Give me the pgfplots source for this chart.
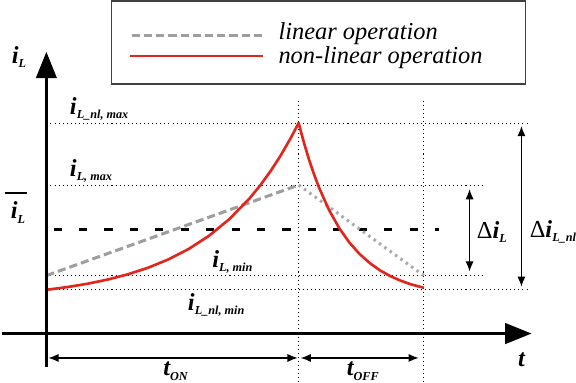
\documentclass[border=0pt]{standalone}
\usepackage{pgfplots}
\pgfplotsset{compat=1.18}
\usepackage{fontspec}
\setmainfont{Liberation Serif}
\newfontfamily\serifit{Liberation Serif}
\usetikzlibrary{arrows.meta}
\definecolor{redc}{RGB}{225,38,30}
\definecolor{grayc}{RGB}{158,158,158}
\definecolor{grayd}{RGB}{170,170,170}
\newcommand{\bi}[1]{{\serifit\fontsize{24}{26}\selectfont\bfseries\itshape #1}}
\newcommand{\sub}[1]{\raisebox{-4pt}{\serifit\fontsize{12}{13}\selectfont\bfseries\itshape #1}}
\begin{document}
\begin{tikzpicture}
\begin{axis}[scale only axis, width=576pt, height=391pt,
  xmin=0, xmax=576, ymin=0, ymax=391, axis lines=none,
  xtick=\empty, ytick=\empty, clip=false]
% dotted reference lines
\addplot[black, line width=0.9pt, dash pattern=on 1pt off 3pt] coordinates {(55,264) (525,264)};
\addplot[black, line width=0.9pt, dash pattern=on 1pt off 3pt] coordinates {(55,203) (480,203)};
\addplot[black, line width=0.9pt, dash pattern=on 1pt off 3pt] coordinates {(55,114) (480,114)};
\addplot[black, line width=0.9pt, dash pattern=on 1pt off 3pt] coordinates {(55,100) (525,100)};
\addplot[black, line width=0.9pt, dash pattern=on 1pt off 3pt] coordinates {(299,286) (299,9)};
\addplot[black, line width=0.9pt, dash pattern=on 1pt off 3pt] coordinates {(422,286) (422,9)};
% average
\addplot[black, line width=3pt, dash pattern=on 8pt off 17pt] coordinates {(58,159) (437,159)};
% linear operation
\addplot[grayc, line width=3pt, dash pattern=on 8pt off 4pt] coordinates {(51,114) (299,203)};
\addplot[grayd, line width=3pt, dash pattern=on 2.5pt off 4pt] coordinates {(299,203) (422,114)};
% non-linear operation
\addplot[redc, line width=2.6pt, line join=round] coordinates {
(51,100) (71,102.6) (91,105.9) (111,110.0) (131,115.2) (151,121.7) (171,129.9)
(191,140.2) (211,153.2) (231,169.6) (251,190.2) (261,202.4) (271,216.1)
(281,231.5) (291,248.8) (299,264)
(304,245.3) (309,228.6) (314,213.8) (319,200.5) (329,178.2) (339,160.4)
(349,146.3) (359,135.1) (369,126.2) (379,119.1) (389,113.5) (399,109.1)
(409,105.5) (422,102)};
% axes
\addplot[black, line width=3.2pt, -{Triangle[length=26pt,width=20pt]}] coordinates {(51,24) (51,334)};
\addplot[black, line width=3.2pt, -{Triangle[length=26pt,width=20pt]}] coordinates {(7,57) (528,57)};
% dimension arrows
\addplot[black, line width=1.2pt, {Latex[length=10pt,width=8pt]}-{Latex[length=10pt,width=8pt]}] coordinates {(467,199) (467,118)};
\addplot[black, line width=1.2pt, {Latex[length=10pt,width=8pt]}-{Latex[length=10pt,width=8pt]}] coordinates {(518,261) (518,103)};
\addplot[black, line width=1.2pt, {Latex[length=10pt,width=8pt]}-{Latex[length=10pt,width=8pt]}] coordinates {(53,33) (298,33)};
\addplot[black, line width=1.2pt, {Latex[length=10pt,width=8pt]}-{Latex[length=10pt,width=8pt]}] coordinates {(301,33) (417,33)};
% legend
\draw[black!75, line width=1.8pt] (axis cs:115,384) rectangle (axis cs:522,302);
\addplot[grayc, line width=3pt, dash pattern=on 8pt off 4pt] coordinates {(135,350) (265,350)};
\addplot[redc, line width=2.6pt] coordinates {(133,330) (264,330)};
\node[anchor=west, inner sep=0pt, font=\serifit\fontsize{24}{26}\selectfont\itshape] at (axis cs:279,352) {linear operation};
\node[anchor=west, inner sep=0pt, font=\serifit\fontsize{24}{26}\selectfont\itshape] at (axis cs:279,328) {non-linear operation};
% labels
\node[inner sep=0pt] at (axis cs:24,329) {\bi{i}\sub{L}};
\draw[black, line width=1.5pt] (axis cs:10,195) -- (axis cs:32,195);
\node[inner sep=0pt] at (axis cs:23,176) {\bi{i}\sub{L}};
\node[inner sep=0pt, anchor=west] at (axis cs:74,278) {\bi{i}\sub{L\_nl, max}};
\node[inner sep=0pt, anchor=west] at (axis cs:74,217) {\bi{i}\sub{L, max}};
\node[inner sep=0pt, anchor=west] at (axis cs:214,127) {\bi{i}\sub{L, min}};
\node[inner sep=0pt, anchor=west] at (axis cs:190,85) {\bi{i}\sub{L\_nl, min}};
\node[inner sep=0pt, anchor=west] at (axis cs:474,157) {{\serifit\fontsize{24}{26}\selectfont Δ}\bi{i}\sub{L}};
\node[inner sep=0pt, anchor=west] at (axis cs:526,157) {{\serifit\fontsize{24}{26}\selectfont Δ}\bi{i}\sub{L\_nl}};
\node[inner sep=0pt] at (axis cs:518,31) {\bi{t}};
\node[inner sep=0pt] at (axis cs:178,20) {\bi{t}\sub{ON}};
\node[inner sep=0pt] at (axis cs:362,20) {\bi{t}\sub{OFF}};
\end{axis}
\end{tikzpicture}
\end{document}
